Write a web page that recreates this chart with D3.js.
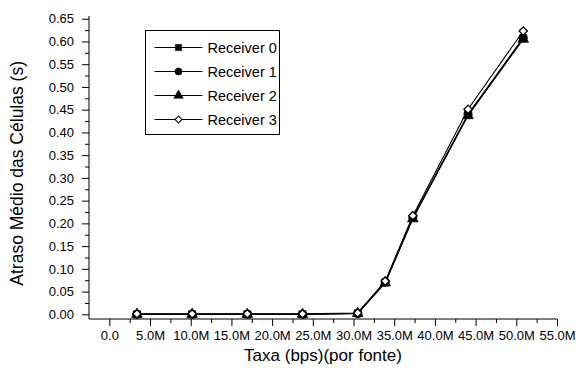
<!DOCTYPE html>
<html>
<head>
<meta charset="utf-8">
<script src="https://cdn.jsdelivr.net/npm/d3@7"></script>
<style>
  body { margin: 0; background: #fff; }
  svg { font-family: "Liberation Sans", Arial, sans-serif; }
</style>
</head>
<body>
<div id="chart"></div>
<script>
const rates = [3.39e6, 10.17e6, 16.95e6, 23.73e6, 30.51e6, 33.9e6, 37.29e6, 44.07e6, 50.85e6];
const receiver0 = [0.000, 0.000, 0.000, 0.000, 0.002, 0.070, 0.212, 0.439, 0.607];
const receiver1 = [0.000, 0.000, 0.000, 0.000, 0.002, 0.071, 0.213, 0.440, 0.608];
const receiver2 = [0.000, 0.000, 0.000, 0.000, 0.002, 0.069, 0.210, 0.437, 0.605];
const receiver3 = [0.001, 0.001, 0.001, 0.001, 0.003, 0.073, 0.217, 0.451, 0.623];
const seriesNames = ["Receiver 0", "Receiver 1", "Receiver 2", "Receiver 3"];
const xTicks = [0, 5e6, 10e6, 15e6, 20e6, 25e6, 30e6, 35e6, 40e6, 45e6, 50e6, 55e6];
const yTicks = [0, 0.05, 0.10, 0.15, 0.20, 0.25, 0.30, 0.35, 0.40, 0.45, 0.50, 0.55, 0.60, 0.65];

const W = 576, H = 372;
const margins = { top: 16, right: 19, bottom: 53, left: 89 };
const width = W - margins.left - margins.right;
const height = H - margins.top - margins.bottom;

const svg = d3.select("#chart").append("svg")
    .attr("width", W)
    .attr("height", H);

const g = svg.append("g")
    .attr("transform", `translate(${margins.left}, ${margins.top})`);

const xScale = d3.scaleLinear().domain([-2.5e6, 55e6]).range([0, width]);
const yScale = d3.scaleLinear().domain([-0.0103, 0.656]).range([height, 0]);

// minor ticks
const xMinor = d3.range(-2.5e6, 55e6, 5e6).slice(1);
const yMinor = d3.range(0.025, 0.65, 0.05);

const xGroup = g.append("g")
    .attr("transform", `translate(0, ${height})`)
    .call(d3.axisBottom(xScale).tickValues(xTicks).tickSize(7).tickPadding(5)
        .tickFormat(d => d === 0 ? "0.0" : d3.format(".1f")(d / 1e6) + "M"));
g.append("g")
    .attr("transform", `translate(0, ${height})`)
    .call(d3.axisBottom(xScale).tickValues(xMinor).tickSize(4).tickFormat(""))
    .select(".domain").remove();

const yGroup = g.append("g")
    .call(d3.axisLeft(yScale).tickValues(yTicks).tickSize(7).tickPadding(8)
        .tickFormat(d3.format(".2f")));
g.append("g")
    .call(d3.axisLeft(yScale).tickValues(yMinor).tickSize(4).tickFormat(""))
    .select(".domain").remove();

xGroup.select(".domain").remove();
yGroup.select(".domain").remove();
g.append("line").attr("x1", 0).attr("x2", width).attr("y1", height).attr("y2", height)
    .attr("stroke", "#000");
g.append("line").attr("x1", 0).attr("x2", 0).attr("y1", 0).attr("y2", height)
    .attr("stroke", "#000");

g.selectAll(".tick line").attr("stroke", "#000");
g.selectAll(".tick text")
    .attr("font-size", "13px")
    .attr("fill", "#000")
    .attr("font-family", "Liberation Sans, Arial, sans-serif");

// axis titles
svg.append("text")
    .attr("x", margins.left + xScale(26.25e6))
    .attr("y", 361)
    .attr("text-anchor", "middle")
    .attr("font-size", "17px")
    .text("Taxa (bps)(por fonte)");

svg.append("text")
    .attr("transform", `translate(23, ${margins.top + yScale(0.31)}) rotate(-90)`)
    .attr("text-anchor", "middle")
    .attr("font-size", "17.5px")
    .text("Atraso Médio das Células (s)");

const allSeries = [receiver0, receiver1, receiver2, receiver3];
// diamond drawn as a rotated square so it is as wide as it is tall
const symbols = [d3.symbolSquare, d3.symbolCircle, d3.symbolTriangle, d3.symbolSquare];
const symbolSizes = [52, 56, 52, 34];
const fills = ["#000", "#000", "#000", "#fff"];
const rot = k => k === 3 ? " rotate(45)" : "";

const line = d3.line()
    .x((d, i) => xScale(rates[i]))
    .y(d => yScale(d));

allSeries.forEach((values, k) => {
    g.append("path")
        .attr("d", line(values))
        .attr("fill", "none")
        .attr("stroke", "#000")
        .attr("stroke-width", 1.1);
    g.selectAll(null)
        .data(values)
        .join("path")
        .attr("transform", (d, i) => `translate(${xScale(rates[i])}, ${yScale(d)})${rot(k)}`)
        .attr("d", d3.symbol().type(symbols[k]).size(symbolSizes[k]))
        .attr("fill", fills[k])
        .attr("stroke", "#000")
        .attr("stroke-width", k === 3 ? 1.3 : 0.5);
});

// legend
const legend = svg.append("g").attr("transform", "translate(145.5, 30.5)");
legend.append("rect")
    .attr("width", 134)
    .attr("height", 104)
    .attr("fill", "#fff")
    .attr("stroke", "#000");

const rows = legend.selectAll(".row")
    .data(seriesNames)
    .join("g")
    .attr("transform", (d, i) => `translate(0, ${17 + i * 24})`);

rows.append("line")
    .attr("x1", 9).attr("x2", 57)
    .attr("stroke", "#000");
rows.append("path")
    .attr("transform", (d, i) => `translate(33, 0)${rot(i)}`)
    .attr("d", (d, i) => d3.symbol().type(symbols[i]).size(i === 3 ? 24 : 40)())
    .attr("fill", (d, i) => fills[i])
    .attr("stroke", "#000")
    .attr("stroke-width", (d, i) => i === 3 ? 1 : 0.5);
rows.append("text")
    .attr("x", 62)
    .attr("y", 5)
    .attr("font-size", "14.5px")
    .text(d => d);
</script>
</body>
</html>
